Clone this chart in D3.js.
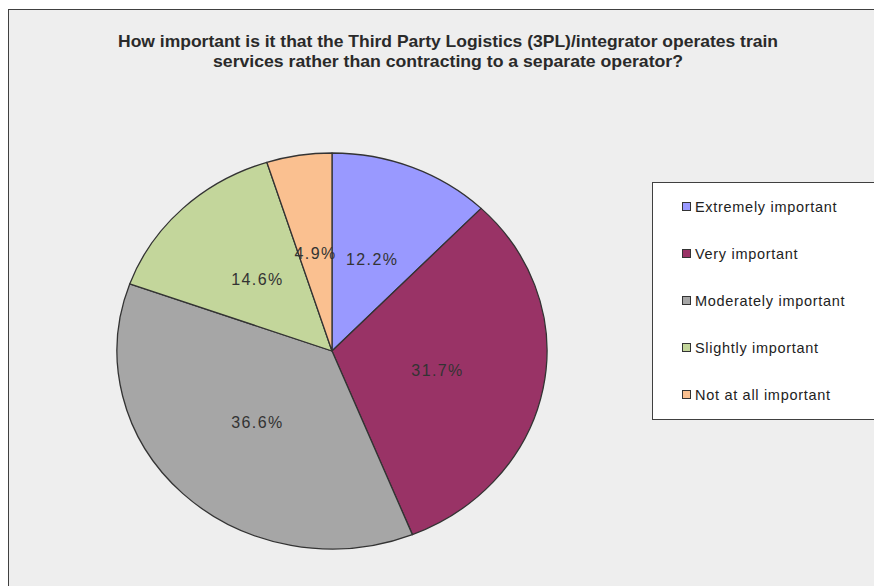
<!DOCTYPE html>
<html><head><meta charset="utf-8">
<script src="https://cdn.jsdelivr.net/npm/d3@7"></script>
<style>
html,body{margin:0;padding:0;background:#fff;}
svg{display:block;}
</style></head>
<body>
<svg id="chart" width="874" height="586"></svg>
<script>
const categories = ["Extremely important","Very important","Moderately important","Slightly important","Not at all important"];
const values = [12.2, 31.7, 36.6, 14.6, 4.9];
const colors = ["#9999ff","#993366","#a6a6a6","#c3d69b","#fac090"];
const titleLines = ["How important is it that the Third Party Logistics (3PL)/integrator operates train","services rather than contracting to a separate operator?"];

const svg = d3.select("#chart");
// chart frame
svg.append("rect").attr("x",8.5).attr("y",9.5).attr("width",900).attr("height",600)
  .attr("fill","#eeeeee").attr("stroke","#404040").attr("stroke-width",1);

// title
const titleW = [660, 470];
titleLines.forEach((t,i)=>{
  svg.append("text").attr("x",448).attr("y",46.5+i*20)
    .attr("text-anchor","middle")
    .attr("font-family","Liberation Sans, Arial, sans-serif")
    .attr("font-weight","bold").attr("font-size",16.5).attr("fill","#2a2a2a")
    .attr("textLength",titleW[i]).attr("lengthAdjust","spacingAndGlyphs")
    .text(t);
});

// pie
const cx = 332, cy = 351, rx = 215, ry = 198;
const pie = d3.pie().sort(null).value(d=>d)(values);
const arc = d3.arc().innerRadius(0).outerRadius(rx);
const g = svg.append("g").attr("transform",`translate(${cx},${cy})`);
g.append("g").attr("transform",`scale(1,${ry/rx})`)
  .selectAll("path").data(pie).join("path")
  .attr("d",arc).attr("fill",(d,i)=>colors[i])
  .attr("stroke","#333").attr("stroke-width",1.3)
  .attr("vector-effect","non-scaling-stroke").attr("stroke-linejoin","round");

g.selectAll("text.lbl").data(pie).join("text").attr("class","lbl")
  .attr("x",d=>arc.centroid(d)[0])
  .attr("y",d=>arc.centroid(d)[1]*ry/rx)
  .attr("dy","0.36em").attr("text-anchor","middle")
  .attr("font-family","Liberation Sans, Arial, sans-serif")
  .attr("font-size",16).attr("letter-spacing",1.4).attr("fill","#333")
  .text(d=>d.value.toFixed(1)+"%");

// legend
const leg = svg.append("g");
leg.append("rect").attr("x",652.5).attr("y",182.5).attr("width",260).attr("height",237)
  .attr("fill","#ffffff").attr("stroke","#404040").attr("stroke-width",1);
const ly = d3.scalePoint().domain(categories).range([207,395]);
categories.forEach((c,i)=>{
  leg.append("rect").attr("x",682.5).attr("y",ly(c)-4.5).attr("width",8).attr("height",8)
    .attr("fill",colors[i]).attr("stroke","#333").attr("stroke-width",1);
  leg.append("text").attr("x",695).attr("y",ly(c)).attr("dy","0.36em")
    .attr("font-family","Liberation Sans, Arial, sans-serif")
    .attr("font-size",14.5).attr("letter-spacing",0.7).attr("fill","#222")
    .text(c);
});
</script>
</body></html>
